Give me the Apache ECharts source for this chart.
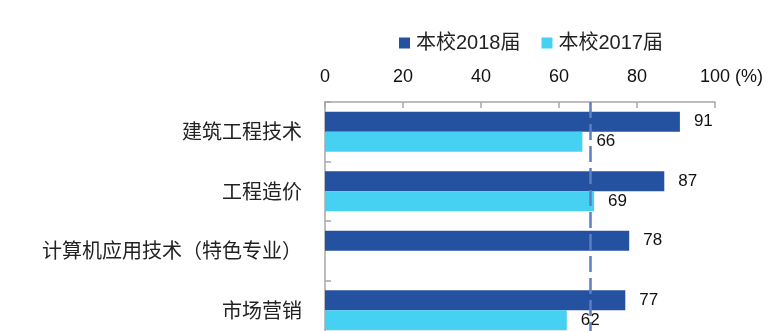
<!DOCTYPE html>
<html>
<head>
<meta charset="utf-8">
<script src="https://cdn.jsdelivr.net/npm/echarts@6/dist/echarts.min.js"></script>
<style>
html,body{margin:0;padding:0;background:#fff;}
#c{width:784px;height:331px;}
</style>
</head>
<body>
<div id="c"></div>
<script>
const categories = ['建筑工程技术', '工程造价', '计算机应用技术（特色专业）', '市场营销'];
const seriesNames = ['本校2018届', '本校2017届'];
const values2018 = [91, 87, 78, 77];
const values2017 = [66, 69, null, 62];
const referenceValue = 68;
const axisMin = 0, axisMax = 100, axisStep = 20;
const unitLabel = ' (%)';

const FONT = '"Liberation Sans", "Noto Sans CJK SC", sans-serif';
const chart = echarts.init(document.getElementById('c'));
chart.setOption({
  animation: false,
  textStyle: { fontFamily: FONT },
  legend: {
    top: 28, left: 394,
    itemWidth: 11, itemHeight: 11, itemGap: 21,
    icon: 'rect',
    textStyle: { fontSize: 20, color: '#222', fontFamily: FONT, padding: [0, 0, 0, 1] },
    data: seriesNames
  },
  grid: { left: 325, right: 69, top: 102, height: 238, containLabel: false, outerBoundsMode: 'none' },
  xAxis: {
    type: 'value', position: 'top',
    min: axisMin, max: axisMax, interval: axisStep,
    axisLine: { show: true, lineStyle: { color: '#a6a6a6', width: 1.5 } },
    axisTick: { show: true, inside: true, length: 6, lineStyle: { color: '#a6a6a6', width: 1.5 } },
    splitLine: { show: false },
    axisLabel: {
      margin: 16, fontSize: 18, color: '#111', fontFamily: FONT,
      formatter: v => v === axisMax ? '{pad| }' + v + unitLabel : String(v),
      rich: { pad: { width: 33, fontSize: 18 } }
    }
  },
  yAxis: {
    type: 'category', inverse: true, data: categories,
    axisLine: { show: true, lineStyle: { color: '#a6a6a6', width: 1.5 } },
    axisTick: { show: true, inside: true, length: 6, lineStyle: { color: '#a6a6a6', width: 1.5 } },
    axisLabel: { margin: 23, fontSize: 20, color: '#222', fontFamily: '"Noto Sans CJK SC", sans-serif' }
  },
  series: [
    {
      name: seriesNames[0], type: 'bar', data: values2018,
      barWidth: 20, barGap: '0%',
      itemStyle: { color: '#2451a0' },
      label: { show: true, position: 'right', distance: 14, fontSize: 17, color: '#111', fontFamily: FONT }
    },
    {
      name: seriesNames[1], type: 'bar', data: values2017,
      barWidth: 20, barGap: '0%',
      itemStyle: { color: '#46d0f2' },
      label: { show: true, position: 'right', distance: 14, fontSize: 17, color: '#111', fontFamily: FONT },
      markLine: {
        silent: true, symbol: 'none', z: 10,
        label: { show: false },
        lineStyle: { color: '#5b7fc2', width: 2.5, type: [16, 6] },
        data: [{ xAxis: referenceValue }]
      }
    }
  ]
});
</script>
</body>
</html>
